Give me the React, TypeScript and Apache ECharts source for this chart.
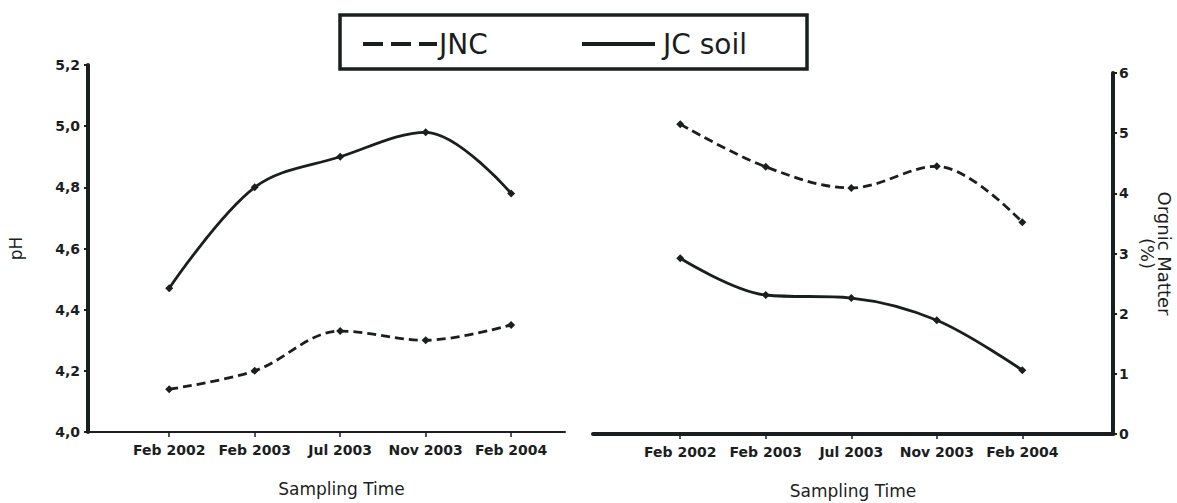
import React, { useEffect, useRef } from "react";
import * as echarts from "echarts";

const categories = ["Feb 2002", "Feb 2003", "Jul 2003", "Nov 2003", "Feb 2004"];
const phJNC = [4.14, 4.2, 4.33, 4.3, 4.35];
const phJC = [4.47, 4.8, 4.9, 4.98, 4.78];
const omJNC = [5.15, 4.44, 4.09, 4.45, 3.52];
const omJC = [2.92, 2.31, 2.26, 1.89, 1.06];
const legendNames = ["JNC", "JC soil"];
const catIdx = categories.map((_, i) => i);

const FONT = "DejaVu Sans";
const INK = "#1b1e1e";

export default function App() {
  const ref = useRef<HTMLDivElement>(null);
  useEffect(() => {
    if (!ref.current) return;
    const chart = echarts.init(ref.current, undefined, { renderer: "svg" });
    const pairs = (arr: number[]) => arr.map((v, i) => [i, v]);
    const xAxisBase = (lineW: number, nameGap: number, pad: number[]) => ({
      type: "value" as const,
      axisLine: { show: true, onZero: false, lineStyle: { color: INK, width: lineW } },
      axisTick: { show: true, customValues: catIdx, length: 5, lineStyle: { color: INK, width: 1.5 } },
      axisLabel: {
        customValues: catIdx,
        formatter: (v: number) => categories[Math.round(v)] ?? "",
        fontFamily: FONT,
        fontWeight: "bold",
        fontSize: 14,
        color: INK,
        margin: 11,
      },
      splitLine: { show: false },
      name: "Sampling Time",
      nameLocation: "middle" as const,
      nameGap,
      nameTextStyle: { fontFamily: FONT, fontSize: 17, color: INK, padding: pad },
    });
    const lineSeries = (name: string, data: number[], idx: number, dashed: boolean) => ({
      type: "line" as const,
      name,
      xAxisIndex: idx,
      yAxisIndex: idx,
      data: pairs(data),
      smooth: 0.35,
      symbol: "diamond",
      symbolSize: 8,
      itemStyle: { color: INK },
      lineStyle: { color: INK, width: 2.8, type: dashed ? [9, 5] : "solid" },
    });
    chart.setOption({
      animation: false,
      backgroundColor: "#ffffff",
      grid: [
        { left: 88, right: 612, top: 65, bottom: 71, outerBoundsMode: "none", containLabel: false },
        { left: 593, right: 64, top: 73, bottom: 69, outerBoundsMode: "none", containLabel: false },
      ],
      xAxis: [
        { ...xAxisBase(2, 48, [0, 0, 0, 30]), gridIndex: 0, min: -0.95, max: 4.63 },
        { ...xAxisBase(4, 48, [0, 0, 0, 0]), gridIndex: 1, min: -1.02, max: 5.06 },
      ],
      yAxis: [
        {
          type: "value",
          gridIndex: 0,
          position: "left",
          min: 4.0,
          max: 5.2,
          interval: 0.2,
          axisLine: { show: true, onZero: false, lineStyle: { color: INK, width: 4 } },
          axisTick: { show: true, length: 4, lineStyle: { color: INK, width: 2 } },
          axisLabel: {
            formatter: (v: number) => v.toFixed(1).replace(".", ","),
            fontFamily: FONT,
            fontWeight: "bold",
            fontSize: 14,
            color: INK,
            margin: 8,
          },
          splitLine: { show: false },
          name: "pH",
          nameLocation: "middle",
          nameGap: 64,
          nameTextStyle: { fontFamily: FONT, fontSize: 17, color: INK, padding: [0, 0, 0, 0] },
        },
        {
          type: "value",
          gridIndex: 1,
          position: "right",
          min: 0,
          max: 6,
          interval: 1,
          axisLine: { show: true, onZero: false, lineStyle: { color: INK, width: 4 } },
          axisTick: { show: true, length: 4, lineStyle: { color: INK, width: 2 } },
          axisLabel: { fontFamily: FONT, fontWeight: "bold", fontSize: 14, color: INK, margin: 6 },
          splitLine: { show: false },
          name: "Orgnic Matter\n(%)",
          nameLocation: "middle",
          nameRotate: -90,
          nameGap: 26,
          nameTextStyle: { fontFamily: FONT, fontSize: 18, color: INK, lineHeight: 17 },
        },
      ],
      series: [
        lineSeries(legendNames[0], phJNC, 0, true),
        lineSeries(legendNames[1], phJC, 0, false),
        lineSeries(legendNames[0], omJNC, 1, true),
        lineSeries(legendNames[1], omJC, 1, false),
      ],
      graphic: [
        {
          type: "rect",
          shape: { x: 340, y: 15, width: 467, height: 54 },
          style: { fill: "#ffffff", stroke: INK, lineWidth: 3.5 },
        },
        {
          type: "line",
          shape: { x1: 363, y1: 44, x2: 437, y2: 44 },
          style: { stroke: INK, lineWidth: 4, lineDash: [20, 8] },
        },
        {
          type: "text",
          x: 439,
          y: 44,
          style: { text: legendNames[0], fontFamily: FONT, fontSize: 28, fill: INK, verticalAlign: "middle" },
        },
        {
          type: "line",
          shape: { x1: 582, y1: 44, x2: 655, y2: 44 },
          style: { stroke: INK, lineWidth: 4 },
        },
        {
          type: "text",
          x: 663,
          y: 44,
          style: { text: legendNames[1], fontFamily: FONT, fontSize: 28, fill: INK, verticalAlign: "middle" },
        },
      ],
    });
    return () => chart.dispose();
  }, []);
  return (
    <div
      ref={ref}
      style={{ position: "fixed", left: 0, top: 0, width: 1177, height: 503, background: "#fff" }}
    />
  );
}
